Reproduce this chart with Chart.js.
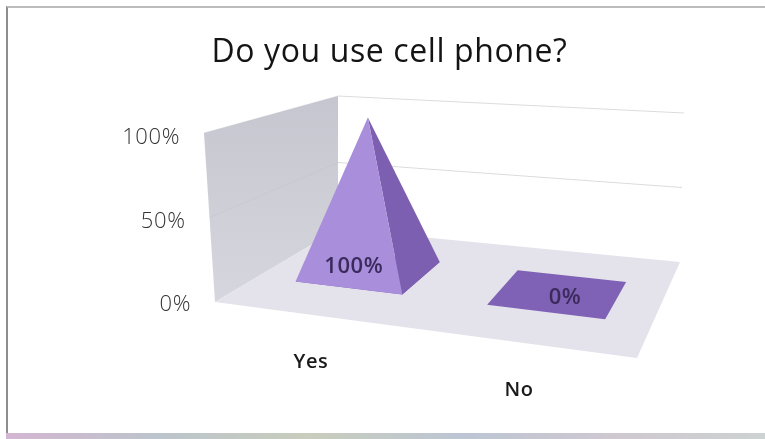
<!DOCTYPE html>
<html>
<head>
<meta charset="utf-8">
<title>Do you use cell phone?</title>
<script src="https://cdn.jsdelivr.net/npm/chart.js@4/dist/chart.umd.min.js"></script>
<style>
    html, body { margin: 0; padding: 0; background: #fff; overflow: hidden; }
    #frame { position: absolute; left: 6px; top: 6px; width: 759px; height: 426px;
             border-left: 2px solid #8e8e8e; border-top: 2px solid #bcbcbc; }
    #strip { position: absolute; left: 6px; top: 433px; width: 759px; height: 6px;
             background: linear-gradient(90deg, #d4b6d2, #bcc4cc 20%, #c8cdbc 40%, #bcc5d4 60%, #cfc8d0 80%, #cdd2d2); }
    canvas { position: absolute; left: 0; top: 0; }
</style>
</head>
<body>
<div id="frame"></div>
<div id="strip"></div>
<canvas id="phoneChart" width="765" height="439"></canvas>
<script>
const categories = ['Yes', 'No'];
const shares = [100, 0];
const shareTicks = [0, 50, 100];

const fontName = '"Open Sans", sans-serif';

// corners of the 3D box, floor and roof, as seen on screen
const floorBox = { fl: [215, 302], fr: [637, 358], bl: [338, 229], br: [680, 262] };
const roofBox = { fl: [204, 133], fr: [650, 156], bl: [338, 96], br: [684, 113] };

const depthFront = 0.345;
const depthBack = 0.745;
const catShift = -0.018;   // marks sit slightly left of the category centre
const labelNudge = [[-16, -6], [6, 4]];

function lerp(a, b, k) {
    return [a[0] + (b[0] - a[0]) * k, a[1] + (b[1] - a[1]) * k];
}

function onQuad(q, u, d) {
    return lerp(lerp(q.fl, q.fr, u), lerp(q.bl, q.br, u), d);
}

// u: across the categories, d: front to back, t: height from 0 to 1
function project(u, d, t) {
    return lerp(onQuad(floorBox, u, d), onQuad(roofBox, u, d), t);
}

function poly(ctx, pts, fill) {
    ctx.beginPath();
    pts.forEach(function(p, i) {
        if (i === 0) ctx.moveTo(p[0], p[1]);
        else ctx.lineTo(p[0], p[1]);
    });
    ctx.closePath();
    ctx.fillStyle = fill;
    ctx.fill();
}

function heightOf(area, yPixel) {
    return (area.bottom - yPixel) / (area.bottom - area.top);
}

const boxPlugin = {
    id: 'box3d',
    beforeDraw(chart) {
        chart.ctx.letterSpacing = '0.6px';
    },
    // walls, floor, gridlines and the value axis text along the wall edge
    beforeDatasetsDraw(chart) {
        const ctx = chart.ctx;
        const area = chart.chartArea;
        const yScale = chart.scales.y;

        const wall = ctx.createLinearGradient(0, 96, 0, 302);
        wall.addColorStop(0, '#c6c6d0');
        wall.addColorStop(1, '#d6d6de');
        poly(ctx, [project(0, 0, 0), project(0, 1, 0), project(0, 1, 1), project(0, 0, 1)], wall);
        poly(ctx, [project(0, 0, 0), project(1, 0, 0), project(1, 1, 0), project(0, 1, 0)], '#e4e2ea');

        ctx.lineWidth = 1;
        shareTicks.forEach(function(v) {
            const py = yScale.getPixelForValue(v);
            const t = heightOf(area, py);
            const a = project(0, 0, t), b = project(0, 1, t), c = project(1, 1, t);

            ctx.font = '300 22px ' + fontName;
            ctx.fillStyle = '#333';
            ctx.textAlign = 'right';
            ctx.textBaseline = 'middle';
            ctx.fillText(v + '%', a[0] - 24, py + 2);

            if (v === 0) return;
            ctx.strokeStyle = 'rgba(190,190,200,0.3)';
            ctx.beginPath();
            ctx.moveTo(a[0], a[1]);
            ctx.lineTo(b[0], b[1]);
            ctx.stroke();
            ctx.strokeStyle = '#dcdcdc';
            ctx.beginPath();
            ctx.moveTo(b[0], b[1]);
            ctx.lineTo(c[0], c[1]);
            ctx.stroke();
        });
    },
    // one pyramid per bar, apex at the bar's value
    afterDatasetsDraw(chart) {
        const ctx = chart.ctx;
        const area = chart.chartArea;
        chart.getDatasetMeta(0).data.forEach(function(bar, i) {
            const u = (bar.x - area.left) / area.width + catShift;
            // bars further right are nearer the viewer and look wider
            const half = bar.width / area.width / 2 * (0.9 + 0.2 * u);
            const mid = (depthFront + depthBack) / 2;
            const t = heightOf(area, bar.y);

            const fl = project(u - half, depthFront, 0);
            const fr = project(u + half, depthFront, 0);
            const br = project(u + half, depthBack, 0);
            const bl = project(u - half, depthBack, 0);
            const apex = project(u, mid, t);

            poly(ctx, [fl, fr, br, bl], '#7f61b6');
            if (t > 0) {
                poly(ctx, [fr, br, apex], '#7d5fb1');
                poly(ctx, [fl, fr, apex], '#a88edb');
            }

            const c = project(u, mid, 0);
            ctx.font = '600 22px ' + fontName;
            ctx.fillStyle = '#3b2b5c';
            ctx.textAlign = 'center';
            ctx.textBaseline = 'middle';
            ctx.fillText(shares[i] + '%', c[0] + labelNudge[i][0], c[1] + labelNudge[i][1]);
        });
    }
};

new Chart(document.getElementById('phoneChart'), {
    type: 'bar',
    data: {
        labels: categories,
        datasets: [{
            data: shares,
            backgroundColor: 'transparent',
            borderWidth: 0,
            categoryPercentage: 1,
            barPercentage: 0.572
        }]
    },
    plugins: [boxPlugin],
    options: {
        responsive: false,
        animation: false,
        layout: { padding: { left: 156, right: 142, top: 0, bottom: 0 } },
        scales: {
            x: {
                grid: { display: false, drawTicks: false },
                border: { display: false },
                afterFit: function(s) { s.height = 136; },
                ticks: {
                    autoSkip: false,
                    maxRotation: 0,
                    padding: 45,
                    color: '#1a1a1a',
                    font: { family: fontName, size: 20, weight: '600', lineHeight: 1.4 },
                    // second category sits one row lower, along the floor edge
                    callback: function(v, i) { return i === 0 ? categories[i] : ['', categories[i]]; }
                }
            },
            y: {
                min: 0,
                max: 100,
                grid: { display: false, drawTicks: false },
                border: { display: false },
                afterFit: function(s) { s.width = 51; },
                afterBuildTicks: function(s) { s.ticks = shareTicks.map(function(v) { return { value: v }; }); },
                ticks: { display: false }
            }
        },
        plugins: {
            legend: { display: false },
            tooltip: { enabled: false },
            title: {
                display: true,
                text: 'Do you use cell phone?',
                color: '#141414',
                font: { family: fontName, size: 32, weight: '500' },
                padding: { top: 34, bottom: 63.6 }
            }
        }
    }
});
</script>
</body>
</html>
